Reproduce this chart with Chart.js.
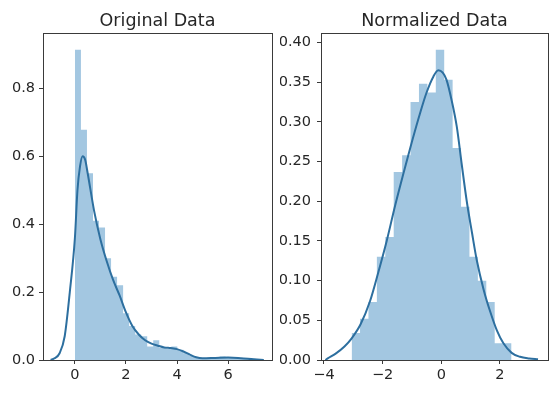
<!DOCTYPE html>
<html>
<head>
<meta charset="utf-8">
<script src="https://cdn.jsdelivr.net/npm/chart.js@4.4.0/dist/chart.umd.min.js"></script>
<style>
  body { margin: 0; background: #fff; }
  #wrap { position: relative; width: 558px; height: 393px; }
  canvas { position: absolute; top: 0; }
</style>
</head>
<body>
<div id="wrap">
  <canvas id="origChart" width="280" height="393" style="left:0"></canvas>
  <canvas id="normChart" width="278" height="393" style="left:280px"></canvas>
</div>
<script>
// Original data: histogram bins (density) + kde curve
const origBinStart = 0;
const origBinWidth = 0.236;
const origHeights = [0.914, 0.678, 0.55, 0.41, 0.39, 0.30, 0.245, 0.22, 0.138, 0.10, 0.075, 0.07,
  0.04, 0.058, 0.035, 0.033, 0.04, 0.03, 0.02, 0.012, 0.006, 0.004, 0.006, 0.008, 0.01, 0.008,
  0.006, 0.004, 0.003, 0.004, 0.002];
const origKdeX = [-0.95, -0.8, -0.6, -0.4, -0.2, 0.0, 0.1, 0.2, 0.3, 0.4, 0.5, 0.75, 1.0, 1.25, 1.5,
  1.75, 2.0, 2.25, 2.5, 2.75, 3.0, 3.25, 3.5, 3.75, 4.0, 4.25, 4.5, 4.75, 5.0, 5.5, 6.0, 6.5, 7.0, 7.4];
const origKdeY = [0, 0.005, 0.02, 0.07, 0.2, 0.36, 0.5, 0.57, 0.6, 0.59, 0.55, 0.44, 0.355, 0.29, 0.235,
  0.19, 0.14, 0.1, 0.075, 0.058, 0.048, 0.042, 0.037, 0.035, 0.032, 0.025, 0.016, 0.008, 0.005,
  0.006, 0.007, 0.005, 0.002, 0];
const origXTicks = [0, 2, 4, 6];
const origYTicks = [0.0, 0.2, 0.4, 0.6, 0.8];

// Normalized data
const normBinStart = -3.056;
const normBinWidth = 0.287;
const normHeights = [0.034, 0.052, 0.073, 0.13, 0.155, 0.237, 0.258, 0.325, 0.348, 0.337, 0.391,
  0.353, 0.267, 0.193, 0.13, 0.10, 0.073, 0.021, 0.021];
const normKdeX = [-3.95, -3.87, -3.6, -3.3, -3.06, -2.75, -2.43, -2.15, -1.86, -1.57, -1.29, -1.0,
  -0.73, -0.5, -0.27, -0.1, 0.05, 0.18, 0.35, 0.53, 0.7, 0.87, 1.05, 1.21, 1.45, 1.66, 1.9, 2.12,
  2.4, 2.69, 3.0, 3.3];
const normKdeY = [0, 0.002, 0.008, 0.017, 0.027, 0.045, 0.074, 0.11, 0.15, 0.195, 0.235, 0.275,
  0.31, 0.337, 0.357, 0.365, 0.362, 0.353, 0.328, 0.294, 0.246, 0.2, 0.16, 0.126, 0.088, 0.062,
  0.037, 0.021, 0.009, 0.004, 0.002, 0.001];
const normXTicks = [-4, -2, 0, 2];
const normYTicks = [0.00, 0.05, 0.10, 0.15, 0.20, 0.25, 0.30, 0.35, 0.40];

const FONT = 'DejaVu Sans';
const TEXT = '#262626';
const SPINE = '#3a3a3a';

// stepped outline of the histogram: left edge of each bin, then drop at the last edge
function histPoints(start, width, heights) {
  const pts = heights.map((h, i) => ({ x: start + i * width, y: h }));
  pts.push({ x: start + heights.length * width, y: 0 });
  return pts;
}

function fmtTick(v, digits) {
  const s = Math.abs(v).toFixed(digits);
  return v < 0 ? '\u2212' + s : s;
}

const framePlugin = {
  id: 'frame',
  afterDraw(chart, args, opts) {
    const { ctx, chartArea: a } = chart;
    ctx.save();
    ctx.strokeStyle = SPINE;
    ctx.lineWidth = 1;
    ctx.strokeRect(Math.round(a.left) + 0.5, Math.round(a.top) + 0.5,
      Math.round(a.right - a.left), Math.round(a.bottom - a.top));
    ctx.fillStyle = TEXT;
    ctx.font = '17.5px "' + FONT + '"';
    ctx.textAlign = 'center';
    ctx.textBaseline = 'alphabetic';
    ctx.fillText(opts.text, (a.left + a.right) / 2, 26);
    ctx.restore();
  }
};

function makeChart(id, cfg) {
  const ctx = document.getElementById(id).getContext('2d');
  return new Chart(ctx, {
    type: 'line',
    data: {
      datasets: [{
        data: cfg.kdeX.map((x, i) => ({ x: x, y: cfg.kdeY[i] })),
        borderColor: '#2d6f9f',
        borderWidth: 2,
        pointRadius: 0,
        cubicInterpolationMode: 'monotone',
        fill: false,
        order: 0
      }, {
        data: histPoints(cfg.binStart, cfg.binWidth, cfg.heights),
        stepped: 'before',
        borderWidth: 0,
        borderColor: 'rgba(0,0,0,0)',
        backgroundColor: '#a3c7e1',
        pointRadius: 0,
        fill: 'origin',
        order: 1
      }]
    },
    options: {
      responsive: false,
      animation: false,
      layout: { padding: { top: 33, right: cfg.padRight, left: 0, bottom: 0 } },
      plugins: {
        legend: { display: false },
        tooltip: { enabled: false },
        frame: { text: cfg.title }
      },
      scales: {
        x: {
          type: 'linear',
          min: cfg.xMin,
          max: cfg.xMax,
          afterFit: s => { s.height = 33; },
          afterBuildTicks: s => { s.ticks = cfg.xTicks.map(v => ({ value: v })); },
          ticks: {
            color: TEXT,
            font: { family: FONT, size: 14.5 },
            padding: 3,
            maxRotation: 0,
            callback: v => fmtTick(v, 0)
          },
          grid: { drawOnChartArea: false, drawTicks: true, tickLength: 4, color: SPINE },
          border: { display: true, color: SPINE }
        },
        y: {
          min: 0,
          max: cfg.yMax,
          afterFit: s => { s.width = cfg.yWidth; },
          afterBuildTicks: s => { s.ticks = cfg.yTicks.map(v => ({ value: v })); },
          ticks: {
            color: TEXT,
            font: { family: FONT, size: 14.5 },
            padding: cfg.yPad,
            callback: v => fmtTick(v, cfg.yDigits)
          },
          grid: { drawOnChartArea: false, drawTicks: true, tickLength: 4, color: SPINE },
          border: { display: true, color: SPINE }
        }
      }
    },
    plugins: [framePlugin]
  });
}

makeChart('origChart', {
  title: 'Original Data',
  binStart: origBinStart, binWidth: origBinWidth, heights: origHeights,
  kdeX: origKdeX, kdeY: origKdeY,
  xTicks: origXTicks, yTicks: origYTicks,
  xMin: -1.25, xMax: 7.72, yMax: 0.963, yDigits: 1,
  yWidth: 43, yPad: 4, padRight: 8
});

makeChart('normChart', {
  title: 'Normalized Data',
  binStart: normBinStart, binWidth: normBinWidth, heights: normHeights,
  kdeX: normKdeX, kdeY: normKdeY,
  xTicks: normXTicks, yTicks: normYTicks,
  xMin: -4.1, xMax: 3.64, yMax: 0.412, yDigits: 2,
  yWidth: 41, yPad: 6, padRight: 10
});
</script>
</body>
</html>
